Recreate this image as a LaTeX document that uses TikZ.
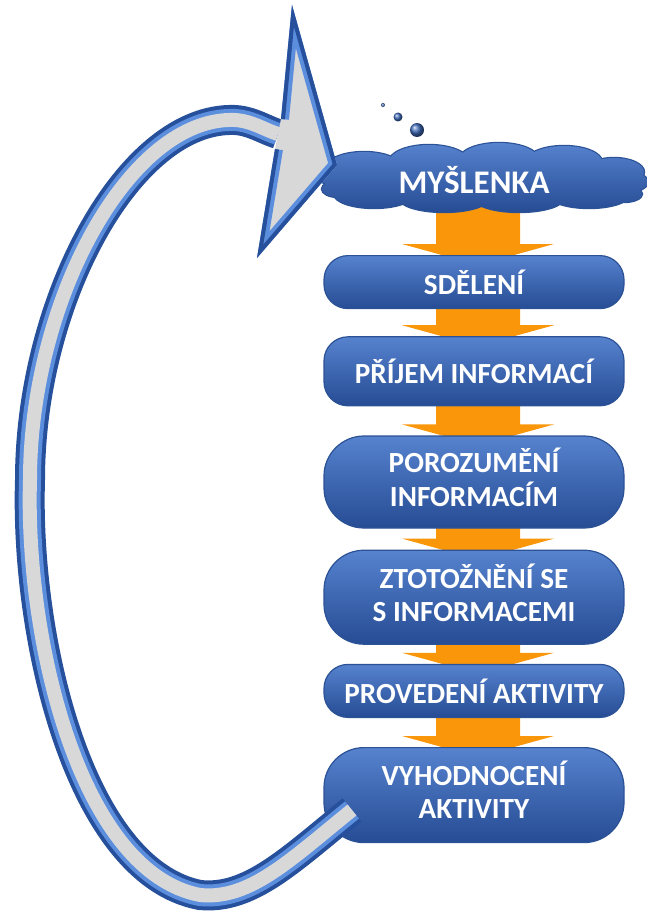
\documentclass[tikz,border=0pt]{standalone}
\usepackage{fontspec}
\setmainfont{Carlito}
\usepackage{xcolor}
\usepackage{tikz}
\usetikzlibrary{calc}
\usetikzlibrary{matrix}
\usetikzlibrary{positioning}
\tikzset{>=stealth}

\definecolor{boxtop}{RGB}{86,130,206}
\definecolor{boxmid}{RGB}{62,106,184}
\definecolor{boxbot}{RGB}{38,76,148}
\definecolor{boxline}{RGB}{44,82,150}
\definecolor{flowor}{RGB}{250,150,10}
\definecolor{loopdark}{RGB}{38,80,155}
\definecolor{looplight}{RGB}{92,142,222}
\definecolor{loopgray}{RGB}{216,216,216}

\newcommand{\twolines}[2]{\begin{tabular}{@{}c@{}}#1\\#2\end{tabular}}

\pgfdeclarelayer{back}
\pgfsetlayers{back,main}

\tikzset{
    stepbox/.style={rectangle, rounded corners=12pt, minimum width=150pt, minimum height=26.5pt,
        top color=boxtop, middle color=boxmid, bottom color=boxbot, draw=boxline, line width=0.6pt,
        text=white, font=\fontsize{14.6}{16.5}\selectfont\bfseries, inner sep=2pt, anchor=center},
    tallbox/.style={minimum height=47pt, rounded corners=20pt},
    thought/.style={shade=none, draw=none, fill=none, minimum width=150pt, minimum height=34pt,
        font=\fontsize{16.5}{18}\selectfont\bfseries},
    cloudfill/.style={top color=boxtop, middle color=boxmid, bottom color=boxbot},
    flow/.style={fill=flowor},
    bubble/.style={ball color=boxmid},
}

\begin{document}
\begin{tikzpicture}[x=0.5pt,y=-0.5pt]
    \useasboundingbox (0,0) rectangle (647,915);
    \matrix (m) [matrix of nodes, row sep=0pt, nodes={stepbox}, matrix anchor=m-1-1.center] at (474,180)
    {
        |[thought]| MYŠLENKA \\[20.5pt]
        SDĚLENÍ \\[13.5pt]
        |[minimum height=34.5pt]| PŘÍJEM INFORMACÍ \\[14.5pt]
        |[tallbox, minimum height=46pt]| \twolines{POROZUMĚNÍ}{INFORMACÍM} \\[10.5pt]
        |[tallbox]| \twolines{ZTOTOŽNĚNÍ SE}{S INFORMACEMI} \\[9.5pt]
        PROVEDENÍ AKTIVITY \\[14.5pt]
        |[tallbox, minimum height=47.5pt]| \twolines{VYHODNOCENÍ}{AKTIVITY} \\
    };
    \begin{pgfonlayer}{back}
        % orange arrows between the steps
        \foreach \i/\j in {1/2,2/3,3/4,4/5,5/6,6/7}{
            \coordinate (t) at ($(m-\j-1.north)+(4,0)$);
            \fill[flow] ($(m-\i-1.south -| t)+(-42,-8)$) -- ($(m-\i-1.south -| t)+(42,-8)$)
                -- ($(t)+(42,-11)$) -- ($(t)+(76,-11)$) -- ($(t)+(0,10)$)
                -- ($(t)+(-76,-11)$) -- ($(t)+(-42,-11)$) -- cycle;
        }
        % the cloud behind the first step
        \begin{scope}[shift={(m-1-1.center)}]
            \draw[boxline, line width=1.2pt] (10,2) ellipse (150 and 22)
                (-110,-12) ellipse (38 and 16) (-45,-18) ellipse (40 and 17) (25,-20) ellipse (40 and 17)
                (90,-18) ellipse (38 and 16) (140,-8) ellipse (30 and 14)
                (-100,14) ellipse (40 and 14) (-30,18) ellipse (45 and 14) (45,18) ellipse (45 and 14)
                (115,15) ellipse (40 and 13) (-140,-4) ellipse (16 and 9) (-136,9) ellipse (16 and 8)
                (158,2) ellipse (16 and 9) (150,14) ellipse (18 and 8);
            \shade[cloudfill] (10,2) ellipse (150 and 22)
                (-110,-12) ellipse (38 and 16) (-45,-18) ellipse (40 and 17) (25,-20) ellipse (40 and 17)
                (90,-18) ellipse (38 and 16) (140,-8) ellipse (30 and 14)
                (-100,14) ellipse (40 and 14) (-30,18) ellipse (45 and 14) (45,18) ellipse (45 and 14)
                (115,15) ellipse (40 and 13) (-140,-4) ellipse (16 and 9) (-136,9) ellipse (16 and 8)
                (158,2) ellipse (16 and 9) (150,14) ellipse (18 and 8);
        \end{scope}
    \end{pgfonlayer}
    % thought bubbles
    \shade[bubble] (383,105) circle (2);
    \shade[bubble] (398,117) circle (4.5);
    \shade[bubble] (417,130) circle (7);
    % loop arrow back to the thought
    \coordinate (tail) at (352,810);
    \coordinate (low) at (200,895);
    \coordinate (left) at (30,480);
    \coordinate (top) at (235,120);
    \coordinate (neck) at (278,134);
    \foreach \w/\c in {15pt/loopdark,11pt/looplight,7pt/loopgray}
        \draw[line width=\w, \c] (tail) .. controls (290,860) and (250,900) .. (low)
            .. controls (80,872) and (25,640) .. (left)
            .. controls (30,300) and (130,116) .. (top)
            .. controls (252,121) and (265,130) .. (neck);
    \begin{scope}
        \clip (281,119) -- (292,5) -- (337,165) -- (257,258) -- (275,149) -- cycle;
        \fill[loopgray] (250,0) rectangle (345,265);
        \draw[line width=8pt, looplight] (281,119) -- (292,5) -- (337,165) -- (257,258) -- (275,149);
        \draw[line width=4pt, loopdark] (281,119) -- (292,5) -- (337,165) -- (257,258) -- (275,149);
    \end{scope}
\end{tikzpicture}
\end{document}
